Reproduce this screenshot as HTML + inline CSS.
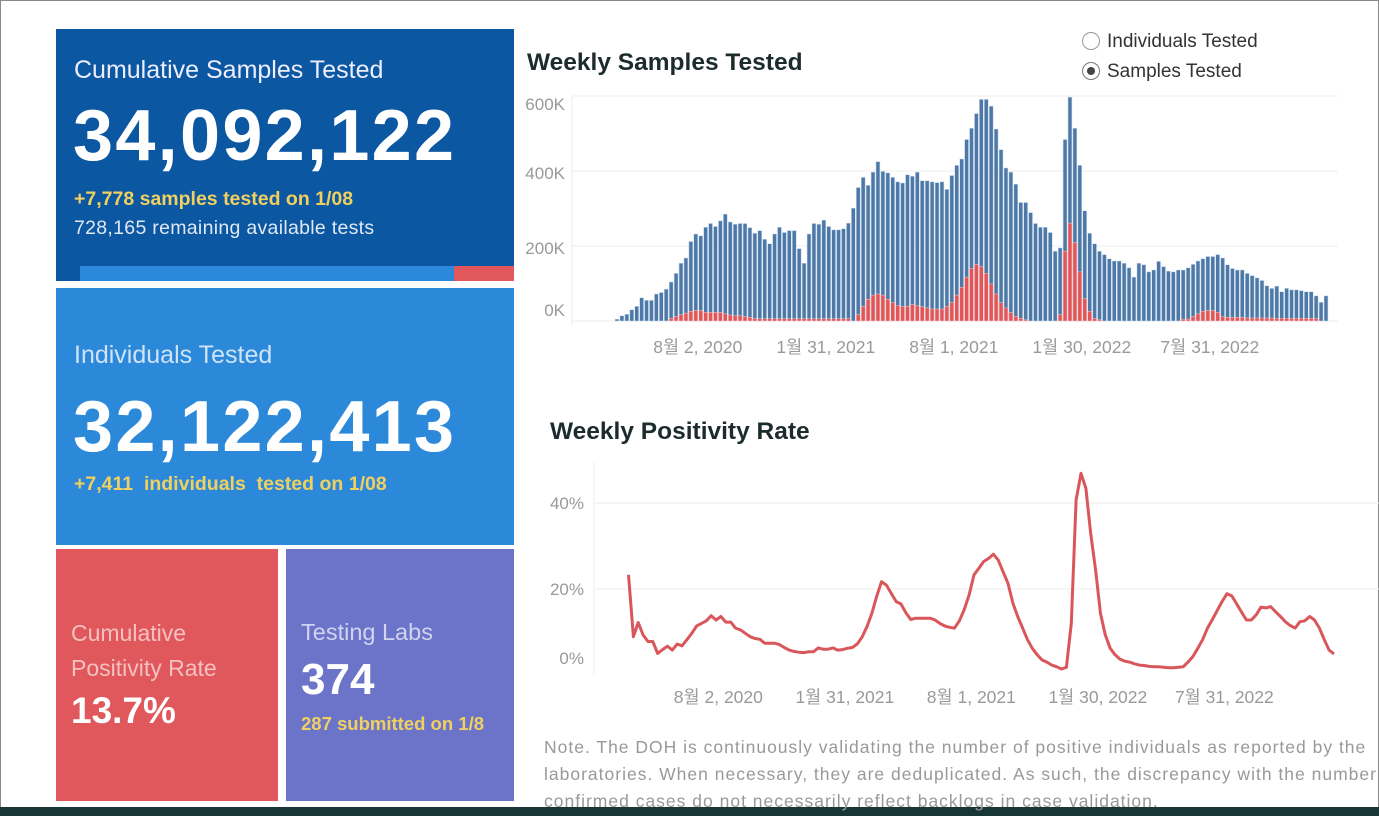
<!DOCTYPE html>
<html><head><meta charset="utf-8">
<style>
body{margin:0;width:1379px;height:816px;background:#fff;position:relative;overflow:hidden;font-family:"Liberation Sans","Noto Sans CJK KR",sans-serif}
.box{position:absolute;color:#fff;box-sizing:border-box}
.t{position:absolute;white-space:nowrap}
</style></head><body>
<div style="position:absolute;left:0;top:0;width:1377px;height:814px;border:1px solid #888"></div>
<div class="box" style="left:56px;top:29px;width:458px;height:252px;background:#0b57a1">
  <div class="t" style="left:18px;top:27px;font-size:25px;color:#eef">Cumulative Samples Tested</div>
  <div class="t" style="left:17px;top:66px;font-size:72px;font-weight:bold;letter-spacing:2.3px">34,092,122</div>
  <div class="t" style="left:18px;top:159px;font-size:19.5px;font-weight:bold;color:#f0d060">+7,778 samples tested on 1/08</div>
  <div class="t" style="left:18px;top:188px;font-size:19.5px;color:#e0e8f4;letter-spacing:0.3px">728,165 remaining available tests</div>
  <div style="position:absolute;left:24px;top:237px;width:374px;height:15px;background:#2c88da"></div>
  <div style="position:absolute;left:398px;top:237px;width:60px;height:15px;background:#e0575c"></div>
</div>
<div class="box" style="left:56px;top:288px;width:458px;height:257px;background:#2c89da">
  <div class="t" style="left:18px;top:53px;font-size:25px;color:#cfe3f7">Individuals Tested</div>
  <div class="t" style="left:17px;top:98px;font-size:72px;font-weight:bold;letter-spacing:2.3px">32,122,413</div>
  <div class="t" style="left:18px;top:185px;font-size:19.5px;font-weight:bold;color:#f0d060">+7,411 &nbsp;individuals &nbsp;tested on 1/08</div>
</div>
<div class="box" style="left:56px;top:549px;width:222px;height:252px;background:#e0575c">
  <div class="t" style="left:15px;top:67px;font-size:23px;line-height:35px;color:#f5c0c0">Cumulative<br>Positivity Rate</div>
  <div class="t" style="left:15px;top:141px;font-size:37px;font-weight:bold">13.7%</div>
</div>
<div class="box" style="left:286px;top:549px;width:228px;height:252px;background:#6b74c8">
  <div class="t" style="left:15px;top:70px;font-size:23.5px;color:#d0d4f0">Testing Labs</div>
  <div class="t" style="left:15px;top:106px;font-size:44px;font-weight:bold">374</div>
  <div class="t" style="left:15px;top:164px;font-size:18.5px;font-weight:bold;color:#f0d060">287 submitted on 1/8</div>
</div>
<div style="position:absolute;left:0;top:807px;width:1379px;height:9px;background:#183636"></div>

<div class="t" style="left:527px;top:49px;font-size:24.5px;font-weight:bold;color:#1c2c2c">Weekly Samples Tested</div>
<div class="t" style="left:550px;top:418px;font-size:24.5px;font-weight:bold;color:#1c2c2c">Weekly Positivity Rate</div>
<div class="t" style="left:1082px;top:31px;font-size:19px;color:#333"><span style="display:inline-block;width:16px;height:16px;border:1px solid #999;border-radius:50%;vertical-align:-3px;margin-right:7px"></span>Individuals Tested</div>
<div class="t" style="left:1082px;top:61px;font-size:19px;color:#333"><span style="display:inline-block;width:16px;height:16px;border:1px solid #777;border-radius:50%;vertical-align:-3px;margin-right:7px;position:relative"><span style="position:absolute;left:4px;top:4px;width:8px;height:8px;border-radius:50%;background:#444"></span></span>Samples Tested</div>
<div class="t" style="left:544px;top:734px;font-size:17.5px;line-height:27px;color:#999;letter-spacing:1px">Note. The DOH is continuously validating the number of positive individuals as reported by the<br>laboratories. When necessary, they are deduplicated. As such, the discrepancy with the number of<br>confirmed cases do not necessarily reflect backlogs in case validation.</div>

<svg id="chart" width="1379" height="816" style="position:absolute;left:0;top:0"></svg>
<script>
const samples=[5,14,18,30,39,62,55,55,72,76,85,104,127,154,168,212,232,227,250,260,252,267,285,264,258,260,260,249,234,241,218,206,232,250,236,241,241,193,154,232,260,258,269,252,243,243,246,261,301,356,383,362,397,425,399,395,383,371,368,390,386,397,374,374,371,369,371,351,388,415,432,484,514,553,591,591,573,512,457,408,397,365,316,316,289,260,250,250,236,186,195,484,597,514,415,294,234,206,186,177,166,160,160,154,142,117,154,150,131,136,159,145,133,131,136,136,142,151,160,166,172,172,177,168,150,140,136,136,127,121,115,108,94,87,93,78,87,83,83,81,78,78,67,50,67];
const positives=[0,0,0,0,0,0,0,0,0,0,0,7,12,17,21,26,28,28,23,23,23,23,19,16,14,14,12,10,7,6,6,6,6,6,6,6,6,6,6,6,6,6,6,6,6,6,6,6,0,17,39,58,69,72,69,58,49,41,39,39,44,41,38,35,32,32,32,39,49,69,90,117,140,151,145,127,99,72,49,35,23,12,7,3,0,0,0,0,0,0,17,186,261,209,131,60,26,7,3,0,0,0,0,0,0,0,0,0,0,0,0,0,0,0,0,5,5,12,19,26,28,28,23,12,10,10,10,10,8,8,8,8,8,8,7,7,7,7,7,7,7,7,7,0,0];
const positivity=[23.3,8.9,12.2,9.3,7.8,7.8,5.0,5.9,6.7,5.8,7.2,6.8,8.2,9.7,11.4,12.0,12.6,13.8,12.8,13.6,12.3,12.3,10.9,10.5,9.7,8.9,8.5,8.3,7.4,7.4,7.4,7.1,6.4,5.8,5.5,5.3,5.2,5.4,5.4,6.3,6.0,6.0,6.3,5.8,5.9,6.2,6.4,7.2,8.8,11.2,14.3,18.2,21.7,20.9,19.0,17.1,16.5,14.5,12.9,13.2,13.2,13.2,13.2,12.8,12.0,11.4,11.1,10.9,12.6,15.2,18.6,23.3,24.8,26.4,27.1,28.1,26.7,24.0,21.3,16.7,13.6,10.9,8.2,6.2,4.7,3.5,3.0,2.3,1.9,1.4,1.8,12.0,40.7,46.9,43.4,32.9,24.4,14.3,9.3,6.2,4.7,3.7,3.2,3.0,2.6,2.3,2.2,2.0,1.9,1.9,1.8,1.7,1.7,1.8,1.9,3.0,4.3,6.2,8.2,10.9,12.9,15.0,17.1,18.9,18.4,16.5,14.6,12.8,12.8,14.0,15.8,15.6,15.9,14.7,13.6,12.4,11.5,10.9,12.4,12.6,13.6,12.8,10.9,8.2,5.8,4.9];
const barTicks=[0,200,400,600];
const barTickLabels=["0K","200K","400K","600K"];
const rateTicks=[0,20,40];
const rateTickLabels=["0%","20%","40%"];
const dateLabels=["8월 2, 2020","1월 31, 2021","8월 1, 2021","1월 30, 2022","7월 31, 2022"];
const dateIndex=[16,42,68,94,120];

const svg=document.getElementById('chart');
const NS='http://www.w3.org/2000/svg';
function mk(tag,attrs){const e=document.createElementNS(NS,tag);for(const k in attrs)e.setAttribute(k,attrs[k]);svg.appendChild(e);return e;}
const bx=i=>617+i*(1326-617)/(samples.length-1);
const by=v=>321-v*(321-96)/600;
barTicks.forEach((t,i)=>{
  const g=mk('line',{x1:572,x2:1338,y1:by(t),y2:by(t),stroke:'#ececec','stroke-width':1});
  
  
  const lb=mk('text',{x:565,y:(t===0?316:(t===600?by(t)+14:by(t)+8)),'text-anchor':'end','font-size':17,fill:'#999','font-family':'Liberation Sans,sans-serif'});
  lb.textContent=barTickLabels[i];
  
  
});
const ax=mk('line',{x1:572,x2:572,y1:96,y2:325,stroke:'#eee'});


const bw=3.9;
samples.forEach((v,i)=>{
  const r=mk('rect',{x:bx(i)-bw/2,y:by(v),width:bw,height:by(0)-by(v),fill:'#4e79a7',stroke:'#c8dcef','stroke-width':0.5});
  
  
  if(positives[i]>0){
    const p=mk('rect',{x:bx(i)-bw/2,y:by(positives[i]),width:bw,height:by(0)-by(positives[i]),fill:'#e15759',stroke:'#f6c8c8','stroke-width':0.5});
    
    
  }
});
dateLabels.forEach((d,k)=>{
  const t=mk('text',{x:bx(dateIndex[k])+2,y:353,'text-anchor':'middle','font-size':17.5,fill:'#999','font-family':'Liberation Sans,Noto Sans CJK KR,sans-serif'});
  t.textContent=d;
  
  
});
const lx=i=>628.5+i*(1334-628.5)/(positivity.length-1);
const ly=v=>675-v*4.3;
rateTicks.forEach((t,i)=>{
  if(t>0){const g=mk('line',{x1:594,x2:1379,y1:ly(t),y2:ly(t),stroke:'#ececec'});
  
  }
  const lb=mk('text',{x:584,y:(t===0?664:ly(t)+6),'text-anchor':'end','font-size':17,fill:'#999','font-family':'Liberation Sans,sans-serif'});
  lb.textContent=rateTickLabels[i];
  
  
});
const ax2=mk('line',{x1:594,x2:594,y1:462,y2:675,stroke:'#eee'});


const path=mk('path',{d:positivity.map((v,i)=>(i?'L':'M')+lx(i).toFixed(1)+','+ly(v).toFixed(1)).join(''),fill:'none',stroke:'#d9575b','stroke-width':3,'stroke-linejoin':'round'});


dateLabels.forEach((d,k)=>{
  const t=mk('text',{x:lx(dateIndex[k])+12,y:703,'text-anchor':'middle','font-size':17.5,fill:'#999','font-family':'Liberation Sans,Noto Sans CJK KR,sans-serif'});
  t.textContent=d;
  
  
});
</script>
</body></html>
